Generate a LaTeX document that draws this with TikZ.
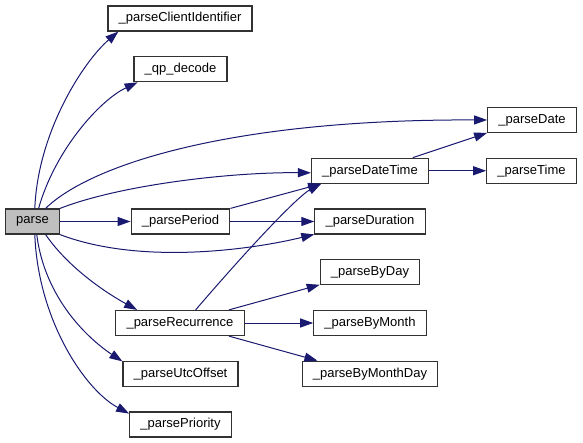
\documentclass[tikz,border=0pt]{standalone}
\usepackage{fontspec}
\setmainfont{Liberation Sans}
\usetikzlibrary{arrows.meta}
\definecolor{edgeblue}{RGB}{25,25,112}
\definecolor{boxline}{RGB}{50,50,50}

\begin{document}
\begin{tikzpicture}[x=0.75pt,y=-0.75pt,
  fn/.style={draw=boxline,line width=0.9pt,fill=white,minimum height=18.75pt,
    inner xsep=8pt,inner ysep=0pt,font=\fontsize{9.75}{11}\selectfont},
  call/.style={draw=edgeblue,line width=0.75pt,-{Triangle[length=9.75pt,width=6.75pt]}}]
  \useasboundingbox (0,0) rectangle (583,443);

  % functions
  \node[fn,fill=gray!50] (parse) at (32.5,221.5) {parse};
  \node[fn] (clientid)   at (180,18.5)    {\_parseClientIdentifier};
  \node[fn] (qpdecode)   at (180.5,69.25) {\_qp\_decode};
  \node[fn] (period)     at (180.5,221.5) {\_parsePeriod};
  \node[fn] (recurrence) at (180,323)     {\_parseRecurrence};
  \node[fn] (utcoffset)  at (180.5,373.75) {\_parseUtcOffset};
  \node[fn] (priority)   at (180.5,424.5) {\_parsePriority};
  \node[fn] (datetime)   at (370,170.75)  {\_parseDateTime};
  \node[fn] (duration)   at (370,221.5)   {\_parseDuration};
  \node[fn] (byday)      at (370,272.25)  {\_parseByDay};
  \node[fn] (bymonth)    at (370,323)     {\_parseByMonth};
  \node[fn] (bymonthday) at (370,373.75)  {\_parseByMonthDay};
  \node[fn] (date)       at (532,120)     {\_parseDate};
  \node[fn] (time)       at (531.5,170.75) {\_parseTime};

  % calls from parse
  \draw[call] (parse.80) .. controls (38,130) and (85,60) .. (clientid.-168);
  \draw[call] (parse.65) .. controls (55,150) and (100,100) .. (qpdecode.-163);
  \draw[call] (parse.45) .. controls (90,165) and (230,119) .. (date.west);
  \draw[call] (parse.north east) .. controls (120,185) and (230,172) .. (datetime.-178);
  \draw[call] (parse) -- (period);
  \draw[call] (parse.south east) .. controls (140,265) and (250,250) .. (duration.-167);
  \draw[call] (parse.-45) .. controls (70,270) and (110,295) .. (recurrence.163);
  \draw[call] (parse.-72) .. controls (45,300) and (90,340) .. (utcoffset.168);
  \draw[call] (parse.-80) .. controls (38,320) and (85,390) .. (priority.168);

  % second level
  \draw[call] (period.north east) -- (datetime.-165);
  \draw[call] (period) -- (duration);
  \draw[call] (recurrence.40) .. controls (260,235) and (300,195) .. (datetime.-165);
  \draw[call] (recurrence.15) -- (byday.-166);
  \draw[call] (recurrence) -- (bymonth);
  \draw[call] (recurrence.-15) -- (bymonthday.166);
  \draw[call] (datetime.17) -- (date.-164);
  \draw[call] (datetime) -- (time);
\end{tikzpicture}
\end{document}
